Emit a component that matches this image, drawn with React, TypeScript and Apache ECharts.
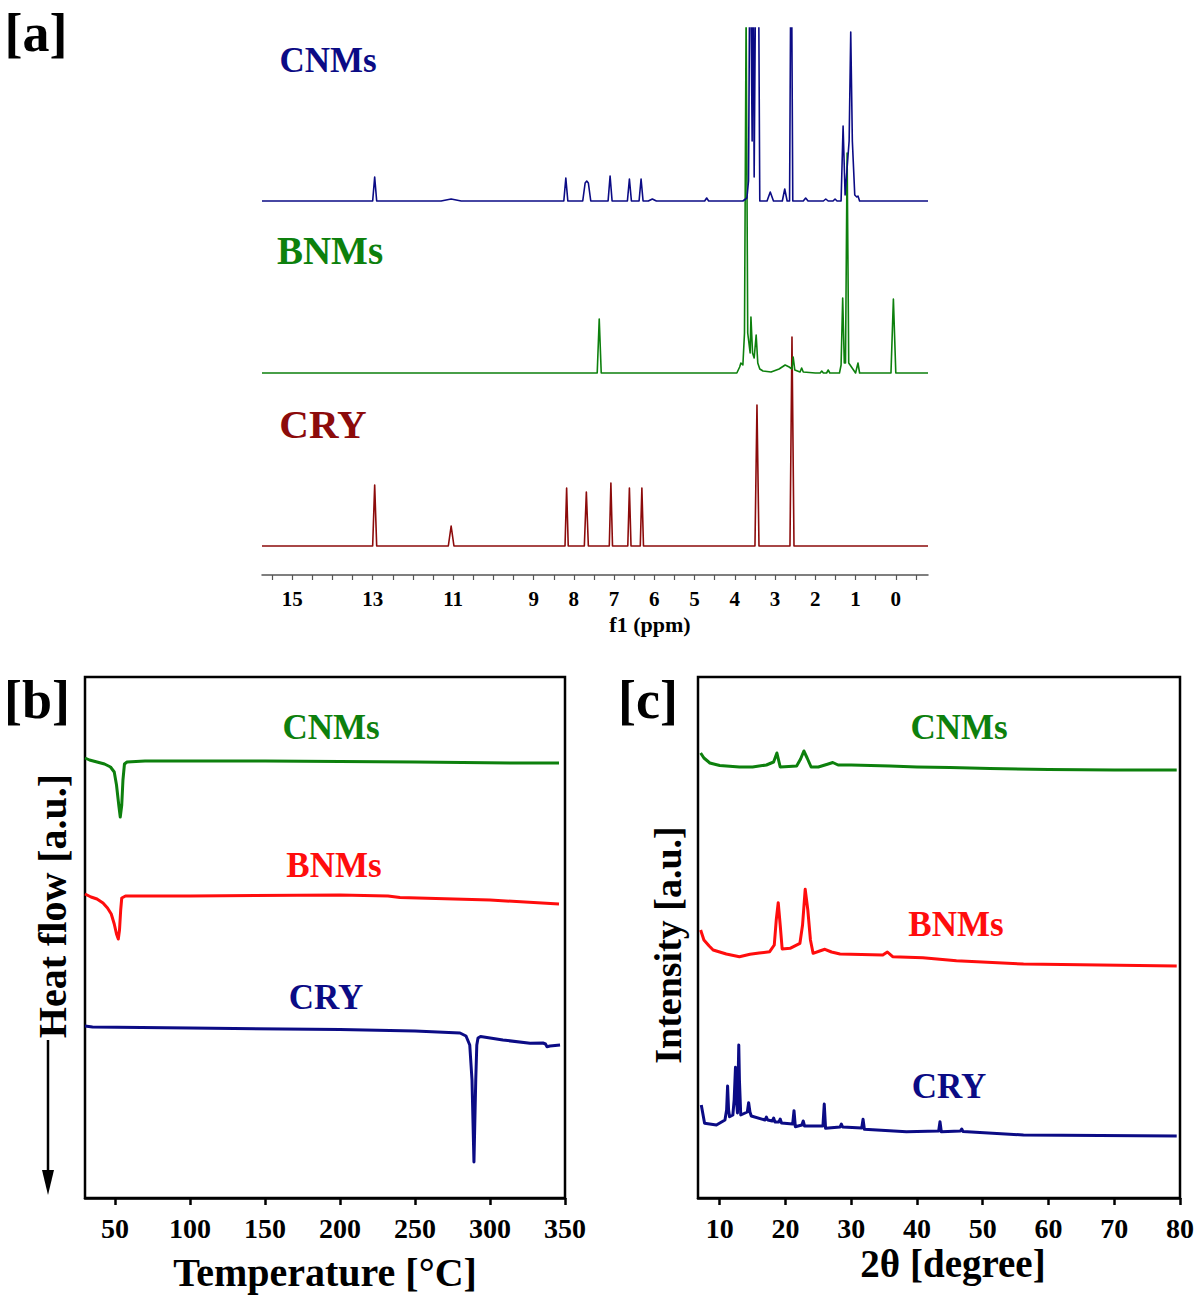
import React, { useEffect, useRef } from "react";
import * as echarts from "echarts";

const FONT = '"Liberation Serif", "Times New Roman", serif';
const NAVY = "#0b0b85";
const GREEN = "#0d800d";
const DARKRED = "#8c0b0b";
const RED = "#ff0d0d";

// ---------- Panel a : 1H NMR (ppm, intensity above each trace's baseline, a.u.) ----------
const nmrTicks = [15.5, 15, 14.5, 14, 13.5, 13, 12.5, 12, 11.5, 11, 10.5, 10, 9.5, 9, 8.5, 8, 7.5, 7, 6.5, 6, 5.5, 5, 4.5, 4, 3.5, 3, 2.5, 2, 1.5, 1, 0.5, 0, -0.5];
const nmrLabels = [15, 13, 11, 9, 8, 7, 6, 5, 4, 3, 2, 1, 0];
const nmrOffsets = { CNMs: 374, BNMs: 202, CRY: 29 };

const nmrCNMs: [number, number][] = [
  [15.75, 0], [13.0, 0], [12.95, 24], [12.9, 0],
  [11.3, 0], [11.05, 2], [10.8, 0],
  [8.25, 0], [8.2, 23], [8.15, 0],
  [7.78, 0], [7.72, 18], [7.68, 20], [7.64, 18], [7.58, 0],
  [7.15, 0], [7.1, 25], [7.05, 0],
  [6.67, 0], [6.62, 22], [6.57, 0],
  [6.38, 0], [6.33, 22], [6.28, 0],
  [6.15, 0], [6.05, 2], [5.95, 0],
  [4.75, 0], [4.7, 3], [4.65, 0],
  [3.8, 0], [3.7, 3], [3.66, 20], [3.62, 300], [3.57, 60], [3.55, 300], [3.52, 24], [3.47, 300], [3.42, 300], [3.38, 0],
  [3.2, 0], [3.12, 9], [3.04, 0],
  [2.82, 0], [2.76, 12], [2.7, 0],
  [2.64, 0], [2.6, 300], [2.56, 0],
  [2.3, 0], [2.24, 3], [2.18, 0],
  [1.8, 0], [1.74, 2], [1.68, 0],
  [1.56, 0], [1.51, 2], [1.46, 0],
  [1.36, 0], [1.31, 75], [1.26, 6], [1.16, 60], [1.12, 169], [1.08, 60], [1.02, 6], [0.97, 4], [0.94, 5], [0.9, 0],
  [-0.8, 0],
];
const nmrBNMs: [number, number][] = [
  [15.75, 0], [7.42, 0], [7.37, 54], [7.32, 0],
  [3.95, 0], [3.88, 6], [3.85, 10], [3.8, 8], [3.76, 40], [3.72, 360], [3.68, 40], [3.62, 20], [3.6, 56], [3.56, 20], [3.52, 15], [3.47, 38], [3.43, 10], [3.38, 4], [3.3, 2],
  [3.1, 1], [2.9, 4], [2.75, 8], [2.65, 6], [2.58, 4], [2.55, 16], [2.51, 3], [2.38, 1], [2.34, 5], [2.3, 1], [2.0, 0],
  [1.88, 0], [1.84, 2], [1.8, 0], [1.72, 0], [1.68, 3], [1.64, 0],
  [1.4, 0], [1.36, 8], [1.32, 75], [1.28, 10], [1.25, 10], [1.21, 220], [1.17, 10], [1.0, 0], [0.94, 10], [0.9, 0],
  [0.12, 0], [0.06, 74], [0.0, 0],
  [-0.8, 0],
];
const nmrCRY: [number, number][] = [
  [15.75, 0], [13.0, 0], [12.95, 61], [12.9, 0],
  [11.12, 0], [11.05, 20], [10.98, 0],
  [8.22, 0], [8.18, 58], [8.14, 0],
  [7.74, 0], [7.69, 54], [7.64, 0],
  [7.12, 0], [7.08, 63], [7.04, 0],
  [6.66, 0], [6.62, 58], [6.58, 0],
  [6.35, 0], [6.31, 58], [6.27, 0],
  [3.5, 0], [3.45, 141], [3.4, 0],
  [2.63, 0], [2.58, 209], [2.53, 0],
  [-0.8, 0],
];

// ---------- Panel b : DSC (temperature °C, heat flow a.u.) ----------
const dscTicks = [50, 100, 150, 200, 250, 300, 350];
const dscCNMs: [number, number][] = [
  [30, 440], [33, 438], [38, 436], [43, 434], [47, 431], [49.5, 426], [51, 413], [52.5, 393], [53.5, 381], [54.5, 393], [55.3, 418], [56.3, 434], [58, 436], [70, 437], [150, 437], [250, 436], [320, 435], [346, 435],
];
const dscBNMs: [number, number][] = [
  [30, 304], [34, 301], [38, 299], [42, 295], [45, 290], [47.5, 284], [49.5, 274], [51, 264], [52.2, 259], [53, 268], [53.8, 288], [54.5, 300], [57, 302], [100, 302], [200, 303], [232, 302], [240, 300.5], [300, 298], [346, 294],
];
const dscCRY: [number, number][] = [
  [30, 172], [35, 171], [100, 170], [200, 168.5], [250, 167], [280, 165], [284, 162], [286.5, 153], [288, 118], [289.3, 36], [290.5, 118], [291.2, 153], [292, 160], [293.7, 161.5], [308.6, 158], [326.7, 154.7], [335.3, 155], [337, 154], [338, 151.3], [340, 152], [346.7, 153],
];

// ---------- Panel c : XRD (2θ degree, intensity a.u.) ----------
const xrdTicks = [10, 20, 30, 40, 50, 60, 70, 80];
const xrdCNMs: [number, number][] = [
  [7.1, 445], [7.6, 440], [8.5, 435], [10, 432.5], [13, 431], [15, 431], [17.1, 433], [18.2, 436], [18.7, 445], [19.2, 431], [20.5, 431.5], [21.7, 432], [22.3, 439], [22.8, 447], [23.3, 440], [23.9, 431], [25, 431], [26.5, 434], [27.2, 435.5], [28, 433], [30, 433], [35.9, 432], [40, 431], [45, 430.5], [51.1, 429.5], [60, 428.5], [70, 428], [79.5, 428],
];
const xrdBNMs: [number, number][] = [
  [7.1, 268], [7.6, 258], [8.4, 252], [9.0, 248], [11, 244], [13, 241.3], [14.6, 243.7], [16, 245], [17.6, 246.3], [18.3, 253], [18.6, 278], [18.9, 295.3], [19.2, 273], [19.5, 249], [20.7, 249.7], [22.2, 254.7], [22.6, 273], [23.0, 308.7], [23.4, 288], [23.8, 258], [24.2, 244.7], [25.2, 247], [26.0, 248.7], [27, 246], [28.3, 244], [34.8, 243], [35.5, 246], [36.3, 241.3], [40.9, 240.3], [46, 237.3], [56.2, 234], [79.5, 232],
];
const xrdCRY: [number, number][] = [
  [7.2, 93], [7.7, 74.7], [9.5, 73], [10.8, 78], [11.05, 88], [11.2, 112], [11.35, 88], [11.5, 81.3], [12.0, 83], [12.2, 98], [12.4, 130.7], [12.55, 98], [12.7, 85], [12.8, 118], [12.9, 153], [13.0, 118], [13.2, 83], [14.2, 86], [14.4, 95.3], [14.6, 86], [14.8, 82], [16.9, 78], [17.1, 81], [17.3, 78], [18.0, 77], [18.2, 80], [18.4, 76], [19.0, 76], [19.2, 79], [19.4, 75], [21.1, 74], [21.3, 87.3], [21.5, 71.3], [22.5, 73], [22.7, 77], [22.9, 72], [25.7, 72], [25.9, 94], [26.1, 69.7], [28.3, 71], [28.5, 74], [28.7, 71], [31.6, 70], [31.8, 78.7], [32.0, 68.7], [38.4, 66.3], [43.3, 67], [43.5, 76.3], [43.7, 66.3], [46.6, 67], [46.8, 69], [47.0, 66.5], [56.2, 63], [79.5, 62],
];

const bold = (size: number) => `bold ${size}px ${FONT}`;

function txt(text: string, x: number, y: number, size: number, fill = "#000", rotation = 0) {
  return {
    type: "text",
    x,
    y,
    rotation,
    style: { text, fill, font: bold(size), align: "center", verticalAlign: "middle" },
    z: 10,
  };
}

function lineSeries(data: [number, number][], color: string, width: number, axis: number, offset = 0) {
  return {
    type: "line",
    xAxisIndex: axis,
    yAxisIndex: axis,
    data: data.map(([x, y]) => [x, y + offset]),
    showSymbol: false,
    symbol: "none",
    clip: true,
    lineStyle: { color, width, join: "round" },
    silent: true,
  };
}

export default function App() {
  const ref = useRef<HTMLDivElement>(null);
  useEffect(() => {
    document.body.style.margin = "0";
    const chart = echarts.init(ref.current!, undefined, { renderer: "svg" });
    const boxAxisX = (min: number, max: number, ticks: number[], idx: number) => ({
      type: "value",
      gridIndex: idx,
      min,
      max,
      axisLine: { show: true, lineStyle: { color: "#000", width: 2.5 } },
      axisTick: { show: true, inside: false, length: 7, customValues: ticks, lineStyle: { color: "#000", width: 2.5 } },
      axisLabel: { show: true, customValues: ticks, margin: 16, color: "#000", fontFamily: FONT, fontWeight: "bold", fontSize: 28 },
      splitLine: { show: false },
    });
    const hiddenY = (max: number, idx: number) => ({
      type: "value",
      gridIndex: idx,
      min: 0,
      max,
      show: false,
      splitLine: { show: false },
    });
    const option: any = {
      animation: false,
      backgroundColor: "#fff",
      grid: [
        { left: 262, top: 28, width: 666, height: 547, show: false, containLabel: false, outerBoundsMode: "none" },
        { left: 85, top: 677, width: 480, height: 521, show: true, borderColor: "#000", borderWidth: 2.5, containLabel: false, outerBoundsMode: "none" },
        { left: 698, top: 677, width: 482, height: 521, show: true, borderColor: "#000", borderWidth: 2.5, containLabel: false, outerBoundsMode: "none" },
      ],
      xAxis: [
        {
          type: "value",
          gridIndex: 0,
          min: -0.8,
          max: 15.75,
          inverse: true,
          axisLine: { show: true, lineStyle: { color: "#555", width: 1.5 } },
          axisTick: { show: true, inside: false, length: 5, customValues: nmrTicks, lineStyle: { color: "#555", width: 1.2 } },
          axisLabel: { show: true, customValues: nmrLabels, margin: 13, color: "#000", fontFamily: FONT, fontWeight: "bold", fontSize: 21 },
          splitLine: { show: false },
        },
        boxAxisX(30, 350, dscTicks, 1),
        boxAxisX(6.7, 80, xrdTicks, 2),
      ],
      yAxis: [hiddenY(547, 0), hiddenY(521, 1), hiddenY(521, 2)],
      series: [
        lineSeries(nmrCRY, DARKRED, 1.6, 0, nmrOffsets.CRY),
        lineSeries(nmrBNMs, GREEN, 1.6, 0, nmrOffsets.BNMs),
        lineSeries(nmrCNMs, NAVY, 1.6, 0, nmrOffsets.CNMs),
        lineSeries(dscCNMs, GREEN, 3, 1),
        lineSeries(dscBNMs, RED, 3, 1),
        lineSeries(dscCRY, NAVY, 3, 1),
        lineSeries(xrdCNMs, GREEN, 3, 2),
        lineSeries(xrdBNMs, RED, 3, 2),
        lineSeries(xrdCRY, NAVY, 3, 2),
      ],
      graphic: [
        txt("[a]", 36, 33, 54),
        txt("CNMs", 328, 60, 35, NAVY),
        txt("BNMs", 330, 250, 39, GREEN),
        txt("CRY", 323, 424, 41, DARKRED),
        txt("f1 (ppm)", 650, 624, 22),
        txt("[b]", 37, 700, 54),
        txt("CNMs", 331, 727, 35, GREEN),
        txt("BNMs", 334, 865, 35, RED),
        txt("CRY", 326, 997, 35, NAVY),
        txt("Temperature [°C]", 325, 1272, 40),
        txt("Heat flow [a.u.]", 52, 906, 40, "#000", Math.PI / 2),
        {
          type: "line",
          shape: { x1: 48, y1: 1040, x2: 48, y2: 1178 },
          style: { stroke: "#000", lineWidth: 2.5 },
        },
        {
          type: "polygon",
          shape: { points: [[42, 1170], [54, 1170], [48, 1195]] },
          style: { fill: "#000" },
        },
        txt("[c]", 648, 700, 54),
        txt("CNMs", 959, 727, 35, GREEN),
        txt("BNMs", 956, 924, 35, RED),
        txt("CRY", 949, 1086, 35, NAVY),
        txt("2θ [degree]", 953, 1263, 39),
        txt("Intensity [a.u.]", 668, 945, 38, "#000", Math.PI / 2),
      ],
    };
    chart.setOption(option);
    return () => chart.dispose();
  }, []);
  return <div ref={ref} style={{ position: "absolute", left: 0, top: 0, width: 1200, height: 1298 }} />;
}
